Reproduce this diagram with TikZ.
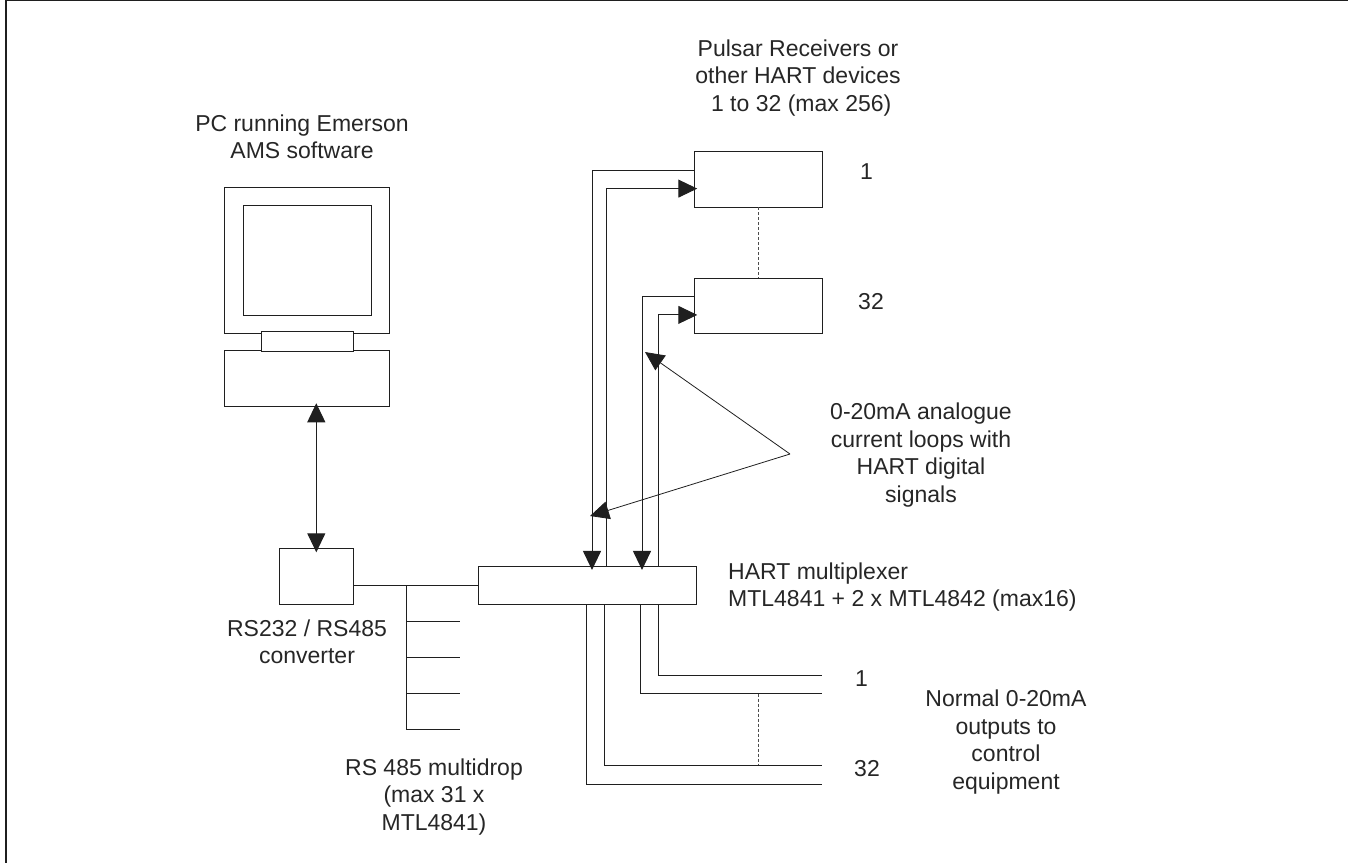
\documentclass[tikz,border=0pt]{standalone}
\usepackage{fontspec}
\setmainfont{Liberation Sans}
\usetikzlibrary{positioning,arrows.meta,calc}

\begin{document}
\begin{tikzpicture}[x=1pt,y=-1pt,
  bx/.style={draw=black!88,line width=1pt,fill=white,outer sep=0pt,inner sep=0pt},
  ln/.style={draw=black!88,line width=1pt},
  ar/.style={ln,-{Triangle[length=19pt,width=18pt]}},
  dsh/.style={draw=black!70,line width=0.8pt,dash pattern=on 3pt off 2pt},
  lb/.style={font=\fontsize{23}{27.5}\selectfont,align=center,inner sep=0pt,text=black!85}]
  \useasboundingbox (0,0) rectangle (1348,863);
  \draw[ln,line width=1.6pt] (1348,0.5) -- (6,0.5) -- (6,863);
  % pc
  \node[bx,minimum width=164.7pt,minimum height=145.7pt] (mon) at (307.3,260.8) {};
  \node[bx,minimum width=128pt,minimum height=110pt] (scr) at (mon.center) {};
  \node[bx,minimum width=164.7pt,minimum height=56pt,below=16.6pt of mon] (base) {};
  \node[bx,minimum width=92pt,minimum height=19.7pt] (neck) at (307.7,341.8) {};
  \node[lb] (pclb) at (302,137) {PC running Emerson\\AMS software};
  % converter and bus
  \node[bx,minimum width=74pt,minimum height=56pt] (conv) at (316.3,576.3) {};
  \node[bx,minimum width=218pt,minimum height=37.3pt] (mux) at (587,585.6) {};
  \node[lb] (convlb) at (307,642) {RS232 / RS485\\converter};
  \node[lb,align=left,anchor=west] (muxlb) at (728,587) {HART multiplexer\\MTL4841 + 2 x MTL4842 (max16)};
  \draw[ar,{Triangle[length=19pt,width=18pt]}-{Triangle[length=19pt,width=18pt]},shorten <=-3pt,shorten >=-4pt]
    ([xshift=9pt]base.south) -- (conv.north);
  \coordinate (d0) at (406,585.6);
  \coordinate (d1) at (406,621);
  \coordinate (d2) at (406,657.3);
  \coordinate (d3) at (406,693.7);
  \coordinate (d4) at (406,729.7);
  \draw[ln] (conv.east |- mux.west) -- (mux.west);
  \draw[ln] (d0) -- (d4);
  \draw[ln] (d1) -- ++(54,0); \draw[ln] (d2) -- ++(54,0); \draw[ln] (d3) -- ++(54,0); \draw[ln] (d4) -- ++(54,0);
  \node[lb] (rslb) at (434,797) {RS 485 multidrop\\(max 31 x\\MTL4841)};
  % receivers
  \node[bx,minimum width=128.5pt,minimum height=55.3pt] (r1) at (758.5,179.6) {};
  \node[bx,minimum width=128.5pt,minimum height=55.3pt,below=71pt of r1] (r32) {};
  \draw[dsh] (r1) -- (r32);
  \node[lb] (rlb) at (798,78) {Pulsar Receivers or\\other HART devices\\ \ 1 to 32 (max 256)};
  \node[lb,anchor=west] (n1) at (860,172) {1};
  \node[lb,anchor=west] (n32) at (858,302) {32};
  \draw[ar,shorten >=-3pt] ([yshift=9.3pt]r1.west) -| ([xshift=114pt]mux.north west);
  \draw[ar,shorten >=-3pt] ([xshift=128.7pt]mux.north west) |- ([yshift=-9pt]r1.west);
  \draw[ar,shorten >=-3pt] ([yshift=9.3pt]r32.west) -| ([xshift=164pt]mux.north west);
  \draw[ar,shorten >=-3pt] ([xshift=180pt]mux.north west) |- ([yshift=-9pt]r32.west);
  % callout
  \coordinate (apex) at (790,454);
  \coordinate (tipa) at (645,352);
  \coordinate (tipb) at (590,516);
  \draw[ar,line width=0.8pt] (apex) -- (tipa);
  \draw[ar,line width=0.8pt] (apex) -- (tipb);
  \node[lb] (loopl) at (921,455) {0-20mA analogue\\current loops with\\HART digital\\signals};
  % outputs
  \coordinate (o1) at (821.7,675.3);
  \coordinate (o2) at (821.7,693.7);
  \coordinate (o3) at (821.7,765.3);
  \coordinate (o4) at (821.7,784);
  \draw[ln] ([xshift=180.3pt]mux.south west) |- (o1);
  \draw[ln] ([xshift=162.7pt]mux.south west) |- (o2);
  \draw[ln] ([xshift=126.3pt]mux.south west) |- (o3);
  \draw[ln] ([xshift=108pt]mux.south west) |- (o4);
  \draw[dsh] ($(o2)+(-63.7,0)$) -- ($(o3)+(-63.7,0)$);
  \node[lb,anchor=west] (m1) at (855,679) {1};
  \node[lb,anchor=west] (m32) at (854,769) {32};
  \node[lb] (outlb) at (1006,742) {Normal 0-20mA\\outputs to\\control\\equipment};
\end{tikzpicture}
\end{document}
